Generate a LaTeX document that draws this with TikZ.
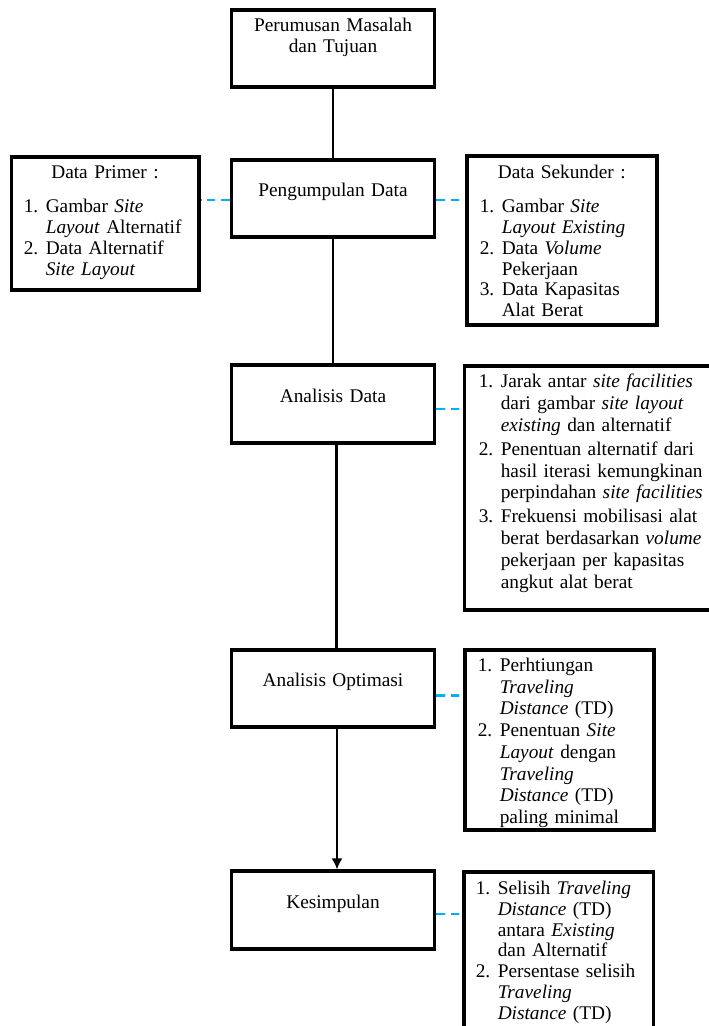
\documentclass[tikz,border=0pt]{standalone}
\usepackage{fontspec}
\setmainfont{Liberation Serif}
\usepackage{tikz}
\usetikzlibrary{positioning,arrows.meta}
\usepackage{xcolor}
\definecolor{linkblue}{RGB}{0,176,240}
\newenvironment{steplist}{\begin{tabular}[t]{@{}p{0.44cm}@{}l@{}}}{\end{tabular}}

\begin{document}
\begin{tikzpicture}[font=\fontsize{11}{11.8}\selectfont,
  mainbox/.style={draw,line width=2pt,anchor=north,minimum width=4.06cm,text width=3.8cm,align=center,inner ysep=0pt,text height=0.74cm,text depth=0.81cm},
  listbox/.style={draw,line width=2pt,anchor=north west,inner ysep=0pt,align=left},
  flow/.style={line width=1.7pt},
  link/.style={draw=linkblue,line width=1.4pt,dash pattern=on 0.17cm off 0.12cm}]
\useasboundingbox (0,0) rectangle (14.16,20.52);
% main chain
\node[mainbox,text height=0.44cm,text depth=1.11cm] (top) at (6.66,20.36) {Perumusan Masalah\\dan Tujuan};
\node[mainbox] (collect) at (6.66,17.36) {Pengumpulan Data};
\node[mainbox] (analysis) at (6.66,13.25) {Analisis Data};
\node[mainbox] (optim) at (6.66,7.56) {Analisis Optimasi};
\node[mainbox] (concl) at (6.66,3.13) {Kesimpulan};
% side boxes
\node[listbox,inner xsep=0.25cm,text width=3.25cm,text height=0.44cm,text depth=2.22cm] (primer) at (0.19,17.42) {\centering Data Primer :\par\vspace{0.27cm}\raggedright
\begin{steplist}
1. & Gambar \textit{Site}\\
   & \textit{Layout} Alternatif\\
2. & Data Alternatif\\
   & \textit{Site Layout}
\end{steplist}};
\node[listbox,inner xsep=0.26cm,text width=3.28cm,text height=0.45cm,text depth=2.92cm] (second) at (9.30,17.43) {\centering Data Sekunder :\par\vspace{0.27cm}\raggedright
\begin{steplist}
1. & Gambar \textit{Site}\\
   & \textit{Layout Existing}\\
2. & Data \textit{Volume}\\
   & Pekerjaan\\
3. & Data Kapasitas\\
   & Alat Berat
\end{steplist}};
\node[listbox,inner xsep=0.29cm,text width=4.47cm,text height=0.44cm,text depth=4.44cm] (analysislist) at (9.25,13.24) {\fontsize{11}{12.4}\selectfont
\begin{steplist}
1. & Jarak antar \textit{site facilities}\\
   & dari gambar \textit{site layout}\\
   & \textit{existing} dan alternatif\\[1.2pt]
2. & Penentuan alternatif dari\\
   & hasil iterasi kemungkinan\\
   & perpindahan \textit{site facilities}\\[1.2pt]
3. & Frekuensi mobilisasi alat\\
   & berat berdasarkan \textit{volume}\\
   & pekerjaan per kapasitas\\
   & angkut alat berat
\end{steplist}};
\node[listbox,inner xsep=0.26cm,text width=3.26cm,text height=0.42cm,text depth=3.17cm] (optimlist) at (9.26,7.55) {\fontsize{11}{12.4}\selectfont
\begin{steplist}
1. & Perhtiungan\\
   & \textit{Traveling}\\
   & \textit{Distance} (TD)\\
2. & Penentuan \textit{Site}\\
   & \textit{Layout} dengan\\
   & \textit{Traveling}\\
   & \textit{Distance} (TD)\\
   & paling minimal
\end{steplist}};
\node[listbox,inner xsep=0.24cm,text width=3.31cm,text height=0.46cm,text depth=3.24cm] (concllist) at (9.24,3.12) {%
\begin{steplist}
1. & Selisih \textit{Traveling}\\
   & \textit{Distance} (TD)\\
   & antara \textit{Existing}\\
   & dan Alternatif\\
2. & Persentase selisih\\
   & \textit{Traveling}\\
   & \textit{Distance} (TD)
\end{steplist}};
% connectors
\draw[flow] (top) -- (collect);
\draw[flow] (collect) -- (analysis);
\draw[flow] ([xshift=0.07cm]analysis.south) -- ([xshift=0.07cm]optim.north);
\draw[flow,-{Latex[length=0.22cm,width=0.22cm]}] ([xshift=0.08cm]optim.south) -- ([xshift=0.08cm]concl.north);
% dashed links
\coordinate (d1) at ([yshift=-0.84cm]collect.north west);
\draw[link] (d1) -- (d1 -| primer.east);
\coordinate (d2) at ([yshift=-0.84cm]collect.north east);
\draw[link] (d2) -- (d2 -| second.west);
\coordinate (d3) at ([yshift=-0.91cm]analysis.north east);
\draw[link] (d3) -- (d3 -| analysislist.west);
\coordinate (d4) at ([yshift=-0.95cm]optim.north east);
\draw[link] (d4) -- (d4 -| optimlist.west);
\coordinate (d5) at ([yshift=-0.89cm]concl.north east);
\draw[link] (d5) -- (d5 -| concllist.west);
\end{tikzpicture}
\end{document}
